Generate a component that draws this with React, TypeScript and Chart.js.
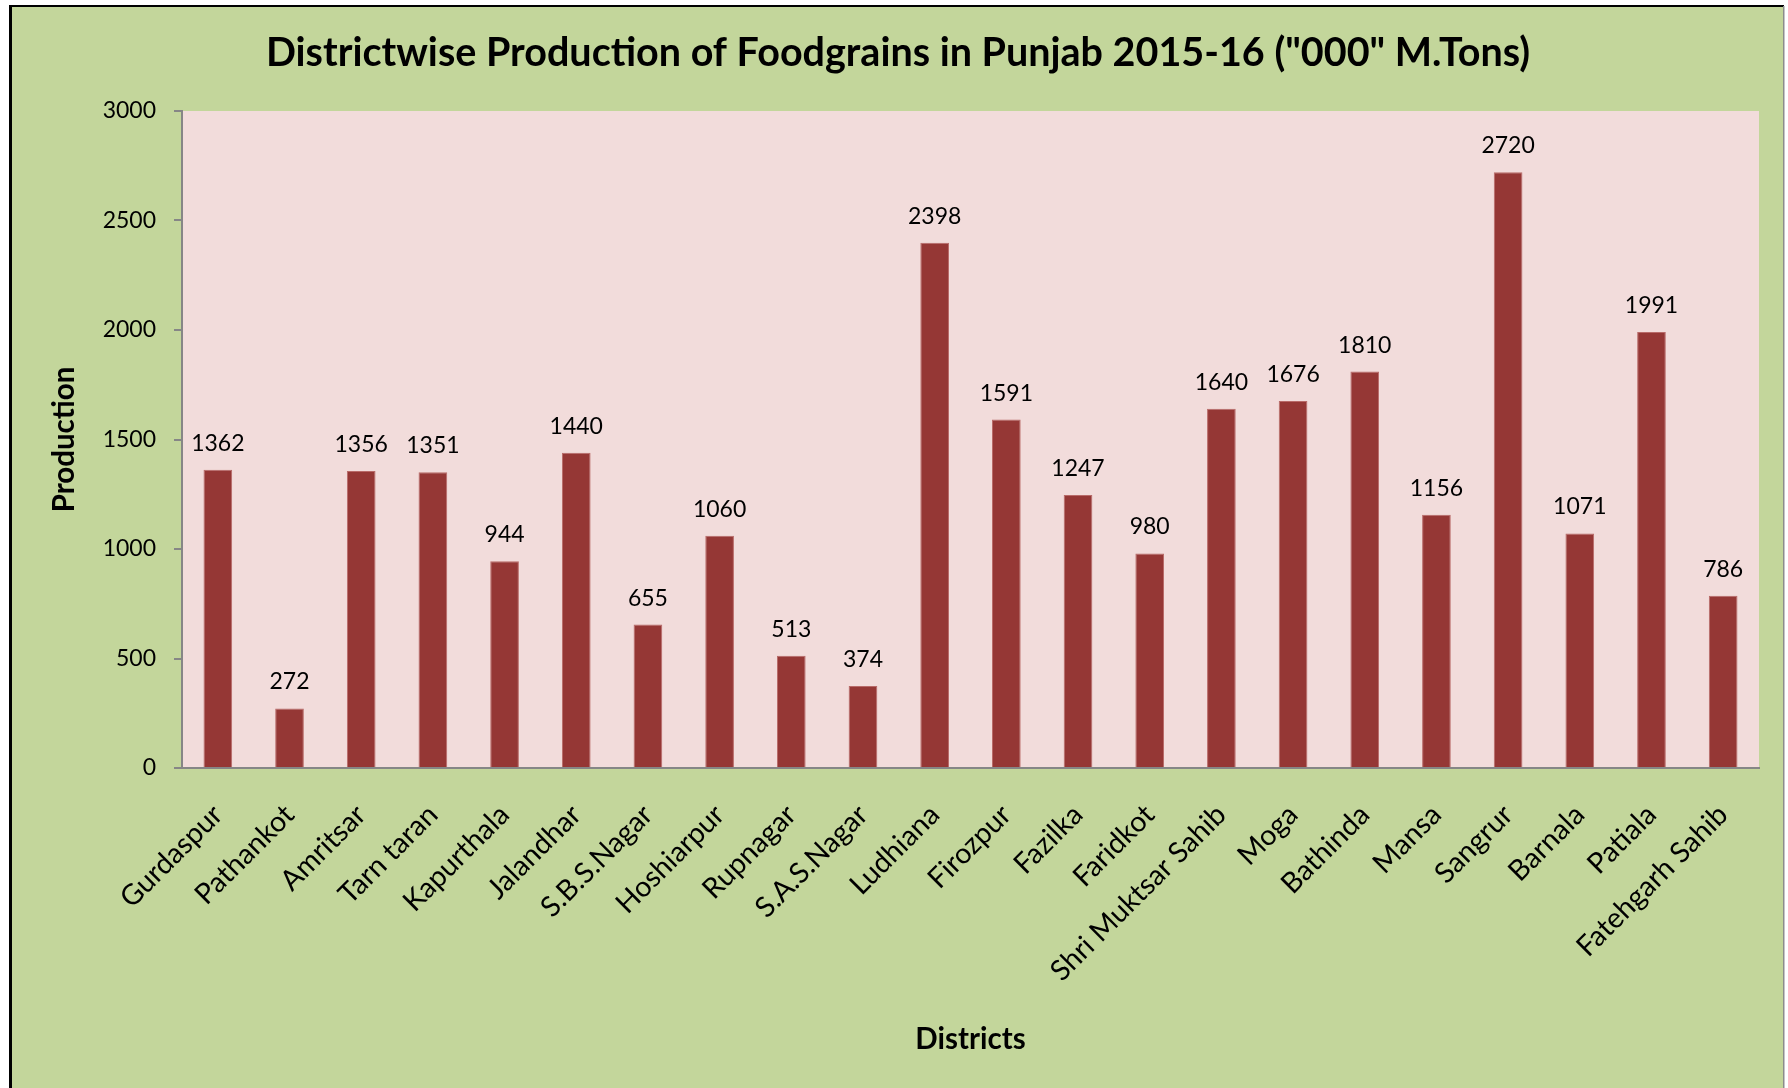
import React, { useEffect, useRef } from "react";
import { Chart, registerables } from "chart.js";

Chart.register(...registerables);

const districts: string[] = [
  "Gurdaspur",
  "Pathankot",
  "Amritsar",
  "Tarn taran",
  "Kapurthala",
  "Jalandhar",
  "S.B.S.Nagar",
  "Hoshiarpur",
  "Rupnagar",
  "S.A.S.Nagar",
  "Ludhiana",
  "Firozpur",
  "Fazilka",
  "Faridkot",
  "Shri Muktsar Sahib",
  "Moga",
  "Bathinda",
  "Mansa",
  "Sangrur",
  "Barnala",
  "Patiala",
  "Fatehgarh Sahib",
];

const production: number[] = [
  1362, 272, 1356, 1351, 944, 1440, 655, 1060, 513, 374, 2398, 1591, 1247, 980,
  1640, 1676, 1810, 1156, 2720, 1071, 1991, 786,
];

const yMin = 0;
const yMax = 3000;
const yStep = 500;

const chartTitle = 'Districtwise Production of Foodgrains in Punjab 2015-16 ("000" M.Tons)';
const xAxisTitle = "Districts";
const yAxisTitle = "Production";

const W = 1788;
const H = 1088;
const FONT = "Lato, 'Open Sans', sans-serif";

export default function App() {
  const ref = useRef<HTMLCanvasElement | null>(null);

  useEffect(() => {
    const canvas = ref.current;
    if (!canvas) return;

    const bgPlugin = {
      id: "bgPlugin",
      beforeDraw(chart: any) {
        const { ctx, chartArea } = chart;
        ctx.save();
        ctx.fillStyle = "#ffffff";
        ctx.fillRect(0, 0, W, H);
        ctx.fillStyle = "#C3D69B";
        ctx.fillRect(10, 6, 1774, H - 6);
        ctx.fillStyle = "#000000";
        ctx.fillRect(9, 5, 3, H - 5);
        ctx.fillRect(9, 5, 1775, 2);
        ctx.fillStyle = "#8c8c8c";
        ctx.fillRect(1783, 6, 1.5, H - 6);
        ctx.fillStyle = "#F2DCDB";
        ctx.fillRect(
          chartArea.left,
          chartArea.top,
          chartArea.right - chartArea.left,
          chartArea.bottom - chartArea.top
        );
        ctx.fillStyle = "#000000";
        ctx.font = `bold 39.5px ${FONT}`;
        ctx.textAlign = "center";
        ctx.textBaseline = "alphabetic";
        ctx.fillText(chartTitle, 898, 66);
        ctx.restore();
      },
    };

    const valuePlugin = {
      id: "valuePlugin",
      afterDatasetsDraw(chart: any) {
        const { ctx } = chart;
        const meta = chart.getDatasetMeta(0);
        ctx.save();
        ctx.fillStyle = "#000000";
        ctx.font = `23px ${FONT}`;
        ctx.textAlign = "center";
        ctx.textBaseline = "alphabetic";
        meta.data.forEach((bar: any, i: number) => {
          ctx.fillText(String(production[i]), bar.x, bar.y - 19);
        });
        ctx.restore();
      },
    };

    const chart = new Chart(canvas, {
      type: "bar",
      data: {
        labels: districts,
        datasets: [
          {
            label: yAxisTitle,
            data: production,
            backgroundColor: "#953735",
            borderColor: "#B86A68",
            borderWidth: 1,
            barPercentage: 0.4,
            categoryPercentage: 1.0,
          },
        ],
      },
      options: {
        animation: false,
        responsive: false,
        maintainAspectRatio: false,
        devicePixelRatio: 1,
        layout: { padding: { left: 10, top: 111, right: 29, bottom: 0 } },
        plugins: {
          legend: { display: false },
          tooltip: { enabled: false },
          title: { display: false },
        },
        scales: {
          x: {
            offset: true,
            grid: { display: false, drawTicks: false },
            border: { display: true, color: "#868686", width: 2 },
            ticks: {
              autoSkip: false,
              minRotation: 45,
              maxRotation: 45,
              padding: 30,
              color: "#000000",
              font: { family: FONT, size: 28.5 },
            },
            title: {
              display: true,
              text: xAxisTitle,
              color: "#000000",
              font: { family: FONT, size: 29.5, weight: "bold" },
              padding: { top: 0, bottom: 31 },
            },
            afterFit(scale: any) {
              scale.height = 320;
            },
          },
          y: {
            min: yMin,
            max: yMax,
            ticks: {
              stepSize: yStep,
              padding: 18,
              color: "#000000",
              font: { family: FONT, size: 23 },
              callback: (v: any) => String(v),
            },
            grid: {
              display: true,
              drawOnChartArea: false,
              drawTicks: true,
              tickLength: 8,
              color: "#868686",
              lineWidth: 2,
            },
            border: { display: true, color: "#868686", width: 2 },
            title: {
              display: true,
              text: yAxisTitle,
              color: "#000000",
              font: { family: FONT, size: 29.5, weight: "bold" },
              padding: { top: 37, bottom: 0 },
            },
            afterFit(scale: any) {
              scale.width = 172;
            },
          },
        },
      },
      plugins: [bgPlugin, valuePlugin],
    } as any);

    return () => {
      chart.destroy();
    };
  }, []);

  return (
    <div style={{ position: "absolute", left: 0, top: 0, width: W, height: H }}>
      <canvas ref={ref} width={W} height={H} style={{ width: W, height: H, display: "block" }} />
    </div>
  );
}
